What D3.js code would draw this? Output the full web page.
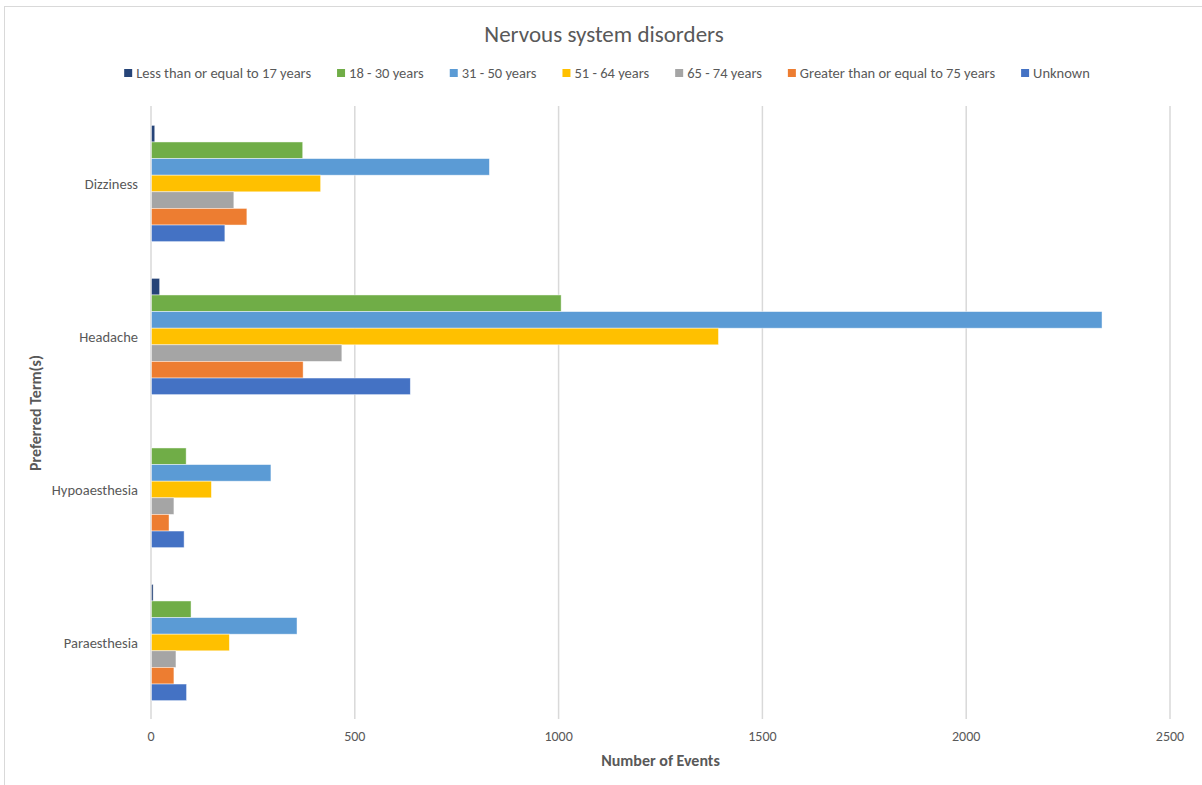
<!DOCTYPE html>
<html>
<head>
<meta charset="utf-8">
<script src="https://cdn.jsdelivr.net/npm/d3@7"></script>
<style>
  body { margin: 0; background: #fff; }
  text { font-family: Carlito, Calibri, Lato, "Open Sans", sans-serif; fill: #595959; }
</style>
</head>
<body>
<svg id="chart" width="1202" height="785"></svg>
<script>
// chart data
const categories = ["Dizziness", "Headache", "Hypoaesthesia", "Paraesthesia"];
const seriesNames = [
  "Less than or equal to 17 years",
  "18 - 30 years",
  "31 - 50 years",
  "51 - 64 years",
  "65 - 74 years",
  "Greater than or equal to 75 years",
  "Unknown"
];
const seriesColors = ["#264478", "#70ad47", "#5b9bd5", "#ffc000", "#a5a5a5", "#ed7d31", "#4472c4"];
// values per category, in series order
const dizziness     = [8, 371, 829, 415, 202, 234, 180];
const headache      = [20, 1005, 2332, 1391, 467, 372, 635];
const hypoaesthesia = [0, 85, 293, 147, 55, 43, 80];
const paraesthesia  = [4, 97, 357, 191, 60, 55, 86];
const xTicks = [0, 500, 1000, 1500, 2000, 2500];

const values = [dizziness, headache, hypoaesthesia, paraesthesia];

const svg = d3.select("#chart");

// outer chart border
svg.append("rect")
  .attr("x", 4.5).attr("y", 6.5)
  .attr("width", 1210).attr("height", 800)
  .attr("fill", "none")
  .attr("stroke", "#d9d9d9");

const plotLeft = 151, plotRight = 1170, plotTop = 107, plotBottom = 719;

const x = d3.scaleLinear().domain([0, 2500]).range([plotLeft, plotRight]);
const y0 = d3.scaleBand().domain(categories).range([plotTop, plotBottom])
  .paddingInner(0.24).paddingOuter(0.12);
const y1 = d3.scaleBand().domain(seriesNames).range([0, y0.bandwidth()]);

// gridlines
svg.append("g")
  .selectAll("line")
  .data(xTicks)
  .join("line")
  .attr("x1", d => x(d)).attr("x2", d => x(d))
  .attr("y1", plotTop - 1).attr("y2", plotBottom)
  .attr("stroke", "#d9d9d9")
  .attr("stroke-width", 1.5);

// bars
const groups = svg.append("g")
  .selectAll("g")
  .data(categories)
  .join("g")
  .attr("transform", d => "translate(0," + y0(d) + ")");

groups.selectAll("rect")
  .data((d, i) => values[i]
    .map((v, j) => ({ name: seriesNames[j], v: v, c: seriesColors[j] }))
    .filter(e => e.v > 0))
  .join("rect")
  .attr("x", x(0) + 0.5)
  .attr("y", d => y1(d.name))
  .attr("width", d => x(d.v) - x(0))
  .attr("height", y1.bandwidth())
  .attr("fill", d => d.c)
  .attr("stroke", "#fff")
  .attr("stroke-opacity", 0.6)
  .attr("stroke-width", 0.75);

// category labels
svg.append("g")
  .selectAll("text")
  .data(categories)
  .join("text")
  .attr("x", 138)
  .attr("y", d => y0(d) + y0.bandwidth() / 2)
  .attr("dy", "0.35em")
  .attr("text-anchor", "end")
  .style("font-size", "14.5px")
  .text(d => d);

// x tick labels
svg.append("g")
  .selectAll("text")
  .data(xTicks)
  .join("text")
  .attr("x", d => x(d))
  .attr("y", 741)
  .attr("text-anchor", "middle")
  .style("font-size", "14px")
  .text(d => d);

// title
svg.append("text")
  .attr("x", 604).attr("y", 42)
  .attr("text-anchor", "middle")
  .style("font-size", "23px")
  .text("Nervous system disorders");

// axis titles
svg.append("text")
  .attr("x", (plotLeft + plotRight) / 2).attr("y", 766)
  .attr("text-anchor", "middle")
  .style("font-size", "16px")
  .style("font-weight", "bold")
  .text("Number of Events");

svg.append("text")
  .attr("transform", "translate(41,413) rotate(-90)")
  .attr("text-anchor", "middle")
  .style("font-size", "16px")
  .style("font-weight", "bold")
  .text("Preferred Term(s)");

// legend, laid out from measured text widths and centred
const legend = svg.append("g");
const items = legend.selectAll("g")
  .data(seriesNames)
  .join("g");
items.append("rect")
  .attr("width", 8).attr("height", 8)
  .attr("y", -4)
  .attr("fill", (d, i) => seriesColors[i]);
items.append("text")
  .attr("x", 12)
  .attr("dy", "0.35em")
  .style("font-size", "14.5px")
  .text(d => d);

let pos = 0;
const gap = 26;
items.each(function () {
  const w = d3.select(this).select("text").node().getComputedTextLength() + 12;
  d3.select(this).attr("transform", "translate(" + pos + ",0)");
  pos += w + gap;
});
const total = pos - gap;
legend.attr("transform", "translate(" + (607 - total / 2) + ",73)");
</script>
</body>
</html>
